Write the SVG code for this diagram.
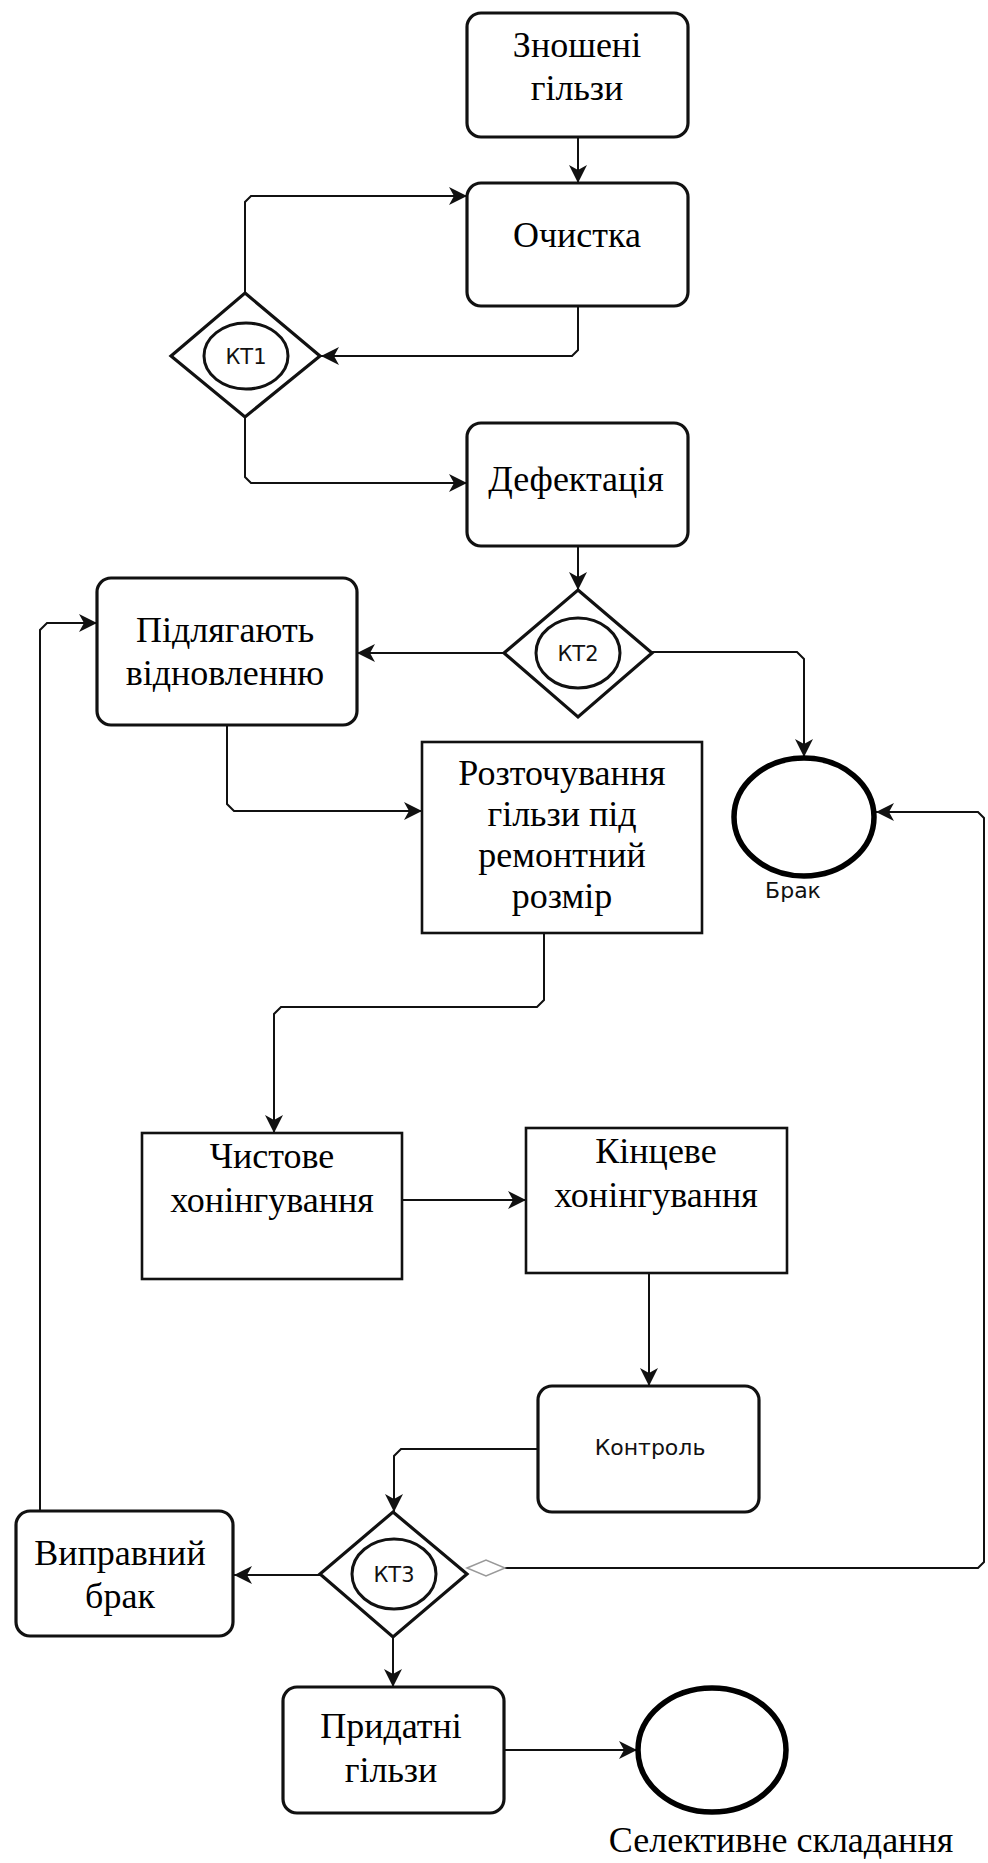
<svg xmlns="http://www.w3.org/2000/svg" width="988" height="1863" viewBox="0 0 988 1863">
<style>
.rbox{fill:#fff;stroke:#111;stroke-width:3.2}
.sbox{fill:#fff;stroke:#111;stroke-width:2.6}
.dia{fill:#fff;stroke:#111;stroke-width:3.2}
.in{fill:#fff;stroke:#111;stroke-width:3}
.end{fill:#fff;stroke:#000;stroke-width:5.5}
.t{font-family:"Liberation Serif","Times New Roman",serif;font-size:36px;fill:#000;text-anchor:middle}
.s{font-family:"DejaVu Sans","Liberation Sans",sans-serif;fill:#111;text-anchor:middle}
.c{fill:none;stroke:#111;stroke-width:2}
</style>
<defs>
<marker id="ar" markerUnits="userSpaceOnUse" markerWidth="24" markerHeight="24" viewBox="0 0 24 24" refX="21" refY="12" orient="auto">
<path d="M3,3 L21,12 L3,21 L8,12 z" fill="#111"/>
</marker>
</defs>
<g id="connectors">
<path class="c" d="M578,137 V183" marker-end="url(#ar)"/>
<path class="c" d="M245,293 V202 L251,196 H467" marker-end="url(#ar)"/>
<path class="c" d="M578,306 V350 L572,356 H321" marker-end="url(#ar)"/>
<path class="c" d="M245,417 V477 L251,483 H467" marker-end="url(#ar)"/>
<path class="c" d="M578,546 V590" marker-end="url(#ar)"/>
<path class="c" d="M504,653 H357" marker-end="url(#ar)"/>
<path class="c" d="M652,652 H797 L804,659 V757" marker-end="url(#ar)"/>
<path class="c" d="M227,725 V804 L234,811 H422" marker-end="url(#ar)"/>
<path class="c" d="M544,933 V1000 L537,1007 H281 L274,1014 V1133" marker-end="url(#ar)"/>
<path class="c" d="M402,1200 H526" marker-end="url(#ar)"/>
<path class="c" d="M649,1273 V1386" marker-end="url(#ar)"/>
<path class="c" d="M538,1449 H401 L394,1456 V1512" marker-end="url(#ar)"/>
<path class="c" d="M320,1575 H234" marker-end="url(#ar)"/>
<path class="c" d="M40,1511 V630 L47,623 H97" marker-end="url(#ar)"/>
<path class="c" d="M393,1637 V1687" marker-end="url(#ar)"/>
<path class="c" d="M504,1750 H637" marker-end="url(#ar)"/>
<path class="c" d="M505,1568 H978 L984,1562 V818 L978,812 H876" marker-end="url(#ar)"/>
<path d="M467,1568 L486,1560 L505,1568 L486,1576 z" fill="#fff" stroke="#999" stroke-width="1.5"/>
</g>
<g id="n_znosheni">
<rect class="rbox" x="467" y="13" width="221" height="124" rx="14"/>
<text class="t" x="577" y="57">Зношені</text>
<text class="t" x="577" y="100">гільзи</text>
</g>
<g id="n_ochystka">
<rect class="rbox" x="467" y="183" width="221" height="123" rx="14"/>
<text class="t" x="577" y="247">Очистка</text>
</g>
<g id="n_kt1">
<polygon class="dia" points="245,293 320,356 245,417 171,356"/>
<ellipse class="in" cx="246" cy="356" rx="42" ry="33"/>
<text class="s" x="246" y="364" font-size="21">КТ1</text>
</g>
<g id="n_defektatsiia">
<rect class="rbox" x="467" y="423" width="221" height="123" rx="14"/>
<text class="t" x="576" y="491">Дефектація</text>
</g>
<g id="n_kt2">
<polygon class="dia" points="578,590 652,653 578,717 504,653"/>
<ellipse class="in" cx="578" cy="653" rx="42" ry="35"/>
<text class="s" x="578" y="661" font-size="21">КТ2</text>
</g>
<g id="n_pidliahaiut">
<rect class="rbox" x="97" y="578" width="260" height="147" rx="14"/>
<text class="t" x="225" y="642">Підлягають</text>
<text class="t" x="225" y="685">відновленню</text>
</g>
<g id="n_brak">
<ellipse class="end" cx="804" cy="817" rx="70" ry="59"/>
<text class="s" x="793" y="898" font-size="22">Брак</text>
</g>
<g id="n_roztochuvannia">
<rect class="sbox" x="422" y="742" width="280" height="191"/>
<text class="t" x="562" y="785">Розточування</text>
<text class="t" x="562" y="826">гільзи під</text>
<text class="t" x="562" y="867">ремонтний</text>
<text class="t" x="562" y="908">розмір</text>
</g>
<g id="n_chystove">
<rect class="sbox" x="142" y="1133" width="260" height="146"/>
<text class="t" x="272" y="1168">Чистове</text>
<text class="t" x="272" y="1212">хонінгування</text>
</g>
<g id="n_kintseve">
<rect class="sbox" x="526" y="1128" width="261" height="145"/>
<text class="t" x="656" y="1163">Кінцеве</text>
<text class="t" x="656" y="1207">хонінгування</text>
</g>
<g id="n_kontrol">
<rect class="rbox" x="538" y="1386" width="221" height="126" rx="14"/>
<text class="s" x="650" y="1455" font-size="22">Контроль</text>
</g>
<g id="n_kt3">
<polygon class="dia" points="393,1512 467,1574 393,1637 320,1574"/>
<ellipse class="in" cx="394" cy="1574" rx="42" ry="35"/>
<text class="s" x="394" y="1582" font-size="21">КТ3</text>
</g>
<g id="n_vypravnyi">
<rect class="rbox" x="16" y="1511" width="217" height="125" rx="14"/>
<text class="t" x="120" y="1565">Виправний</text>
<text class="t" x="120" y="1608">брак</text>
</g>
<g id="n_prydatni">
<rect class="rbox" x="283" y="1687" width="221" height="126" rx="14"/>
<text class="t" x="391" y="1738">Придатні</text>
<text class="t" x="391" y="1782">гільзи</text>
</g>
<g id="n_selektyvne">
<ellipse class="end" cx="712" cy="1750" rx="74" ry="62"/>
<text class="t" x="781" y="1852">Селективне складання</text>
</g>
</svg>
